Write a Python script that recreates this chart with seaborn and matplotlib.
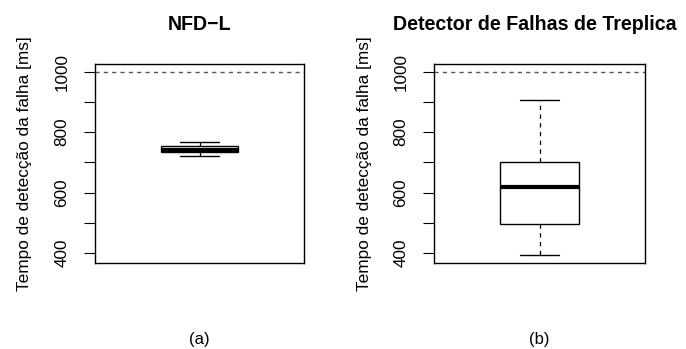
import matplotlib
matplotlib.use("Agg")
import matplotlib.pyplot as plt
import seaborn as sns
import pandas as pd

# five-number summaries: min, q1, median, q3, max
nfdl_values = [722, 735, 740, 755, 768]
treplica_values = [393, 497, 619, 700, 905]
titles = ["NFD\u2212L", "Detector de Falhas de Treplica"]
panel_labels = ["(a)", "(b)"]
ylabel = "Tempo de detecção da falha [ms]"
yticks = [400, 500, 600, 700, 800, 900, 1000]
yticklabels = ["400", "", "600", "", "800", "", "1000"]
reference_line = 1000

sns.set_style("white")
plt.rcParams["font.family"] = ["Liberation Sans", "DejaVu Sans"]
plt.rcParams.update({"text.color": "black", "axes.labelcolor": "black",
                     "xtick.color": "black", "ytick.color": "black"})

fig = plt.figure(figsize=(6.86, 3.49), dpi=100)
positions = [[0.1385, 0.2456, 0.3047, 0.570], [0.6327, 0.2456, 0.3076, 0.570]]
label_x = [-0.30, -0.294]
title_x = [0.5, 0.476]
datasets = [nfdl_values, treplica_values]

for pos, vals, title, plab, lx, tx in zip(positions, datasets, titles, panel_labels,
                                          label_x, title_x):
    ax = fig.add_axes(pos)
    df = pd.DataFrame({"g": ["a"] * len(vals), "v": vals})
    sns.boxplot(data=df, x="g", y="v", ax=ax, width=0.4, whis=1.5,
                color="white", linecolor="black", linewidth=1.0,
                boxprops=dict(facecolor="white", edgecolor="black", linewidth=1.0),
                medianprops=dict(color="black", linewidth=3.0, solid_capstyle="butt"),
                whiskerprops=dict(color="black", linewidth=0.9, linestyle=(0, (3.5, 3.5))),
                capprops=dict(color="black", linewidth=1.0),
                capwidths=0.2, showfliers=False)
    ax.axhline(reference_line, color="#555555", linewidth=1.0, linestyle=(0, (3, 3)), zorder=0.5)
    ax.set_ylim(365.6, 1024.4)
    ax.set_xlim(-0.54, 0.54)
    ax.set_xticks([])
    ax.set_xlabel("")
    ax.set_yticks(yticks)
    ax.set_yticklabels(yticklabels, rotation=90, va="center", fontsize=12.3)
    ax.tick_params(axis="y", direction="out", length=7.8, width=0.8, left=True, pad=10.5,
                   colors="black")
    ax.set_ylabel(ylabel, fontsize=12.4, color="black")
    ax.yaxis.set_label_coords(lx, 0.5)
    for s in ax.spines.values():
        s.set_visible(True)
        s.set_color("black")
        s.set_linewidth(1.0)
    ax.set_title(title, fontsize=14.1, fontweight="bold", pad=25, color="black", x=tx)
    ax.text(0.5, -0.385, plab, transform=ax.transAxes, ha="center", va="center",
            fontsize=12, color="black")

fig.savefig("out.png", dpi=100)
